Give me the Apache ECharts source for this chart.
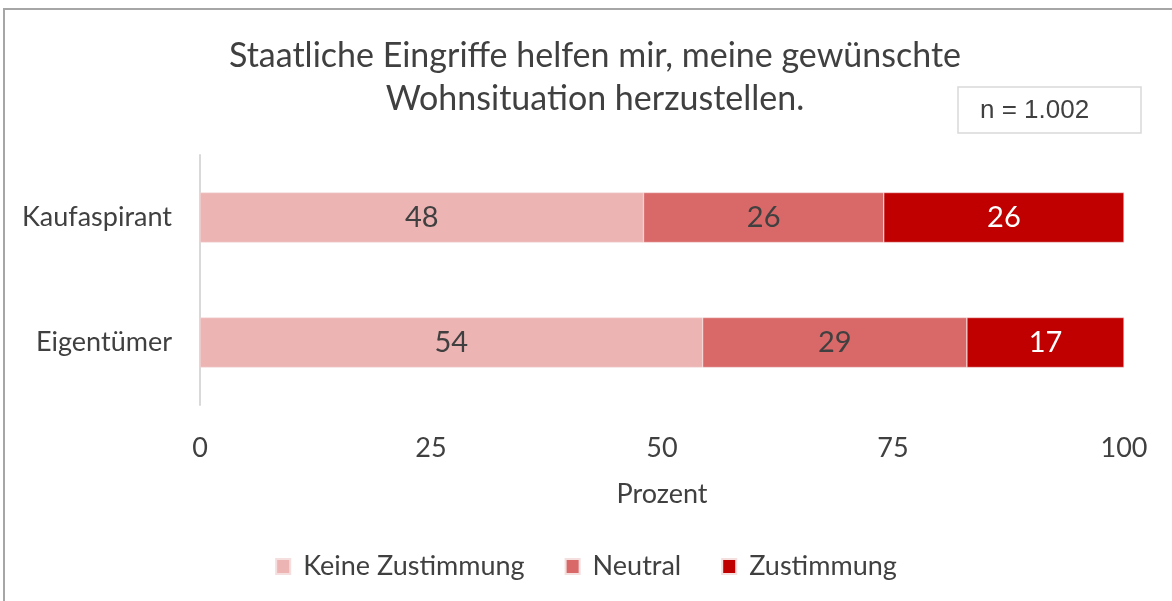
<!DOCTYPE html>
<html>
<head>
<meta charset="utf-8">
<script src="https://cdn.jsdelivr.net/npm/echarts@6/dist/echarts.min.js"></script>
<style>
  html, body { margin: 0; padding: 0; background: #fff; }
  #frame {
    position: absolute; left: 3px; top: 8px; width: 1300px; height: 700px;
    border: 2px solid #a6a6a6; box-sizing: border-box;
  }
  #chart { position: absolute; left: 0; top: 0; width: 1172px; height: 601px; }
</style>
</head>
<body>
<div id="frame"></div>
<div id="chart"></div>
<script>
  const categories = ['Kaufaspirant', 'Eigentümer'];
  const keineZustimmung = [48, 54.4];
  const neutral = [26, 28.6];
  const zustimmung = [26, 17];
  const sampleNote = 'n = 1.002';

  const font = 'Lato, "Noto Sans", sans-serif';
  const textColor = '#404040';

  const chart = echarts.init(document.getElementById('chart'));

  function barSeries(name, data, color, labelColor) {
    return {
      name: name,
      type: 'bar',
      stack: 'total',
      barWidth: 50,
      data: data,
      itemStyle: { color: color, borderColor: '#f4dede', borderWidth: 0.5 },
      label: {
        show: true,
        position: 'inside',
        color: labelColor,
        fontFamily: font,
        fontSize: 29,
        formatter: p => Math.round(p.value)
      },
      emphasis: { disabled: true }
    };
  }

  const option = {
    animation: false,
    textStyle: { fontFamily: font, color: textColor },
    title: {
      text: 'Staatliche Eingriffe helfen mir, meine gewünschte\nWohnsituation herzustellen.',
      left: 590,
      textAlign: 'center',
      top: 30,
      textStyle: { fontFamily: font, fontSize: 34, fontWeight: 'normal', color: textColor, lineHeight: 43 }
    },
    graphic: [
      {
        type: 'rect',
        shape: { x: 958, y: 87, width: 183, height: 46 },
        style: { fill: '#fff', stroke: '#d9d9d9', lineWidth: 1.5 }
      },
      {
        type: 'text',
        x: 980, y: 111,
        style: {
          text: sampleNote, fontFamily: '"Liberation Sans", Arial, sans-serif',
          fontSize: 26, fill: textColor, verticalAlign: 'middle'
        }
      }
    ],
    legend: {
      bottom: 16,
      left: 'center',
      itemWidth: 14,
      itemHeight: 15,
      itemGap: 40,
      icon: 'rect',
      textStyle: { fontFamily: font, fontSize: 27, color: textColor, padding: [0, 0, 0, 8] },
      data: ['Keine Zustimmung', 'Neutral', 'Zustimmung']
    },
    grid: { left: 200, right: 48, top: 155, bottom: 196 },
    xAxis: {
      type: 'value',
      min: 0, max: 100, interval: 25,
      name: 'Prozent',
      nameLocation: 'middle',
      nameGap: 76,
      nameTextStyle: { fontFamily: font, fontSize: 27, color: textColor },
      axisLine: { show: false },
      axisTick: { show: false },
      splitLine: { show: false },
      axisLabel: { fontFamily: font, fontSize: 27, color: textColor, margin: 30 }
    },
    yAxis: {
      type: 'category',
      inverse: true,
      data: categories,
      axisLine: { show: true, lineStyle: { color: '#d9d9d9', width: 2 } },
      axisTick: { show: false },
      axisLabel: { fontFamily: font, fontSize: 27, color: textColor, margin: 28 }
    },
    series: [
      barSeries('Keine Zustimmung', keineZustimmung, '#edb4b4', textColor),
      barSeries('Neutral', neutral, '#d96868', textColor),
      barSeries('Zustimmung', zustimmung, '#c00000', '#ffffff')
    ]
  };

  chart.setOption(option);
</script>
</body>
</html>
